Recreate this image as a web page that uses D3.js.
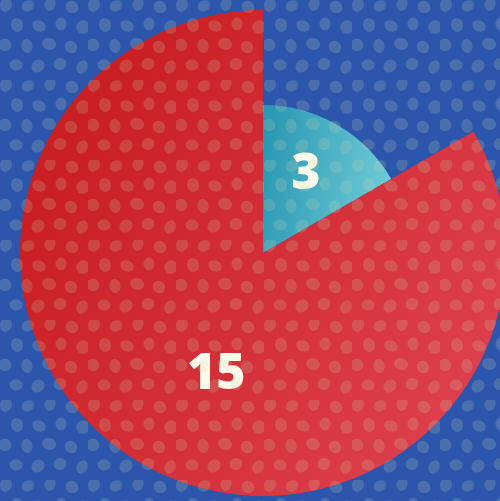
<!DOCTYPE html>
<html>
<head>
<meta charset="utf-8">
<script src="https://cdn.jsdelivr.net/npm/d3@7"></script>
<style>
  html, body { margin: 0; padding: 0; background: #2b56ac; }
  svg { display: block; }
</style>
</head>
<body>
<div class="chart"></div>
<script>
// data
var categories = ["A", "B"];
var values = [3, 15];
var radii = [148, 243];          // each slice has its own outer radius
var labels = ["3", "15"];

var width = 500, height = 501,
    cx = 263, cy = 253;

var svg = d3.select(".chart")
  .append("svg")
    .attr("width", width)
    .attr("height", height);

var defs = svg.append("defs");

// gradients for slices
var gradRed = defs.append("linearGradient")
    .attr("id", "gradRed")
    .attr("x1", "0").attr("y1", "0.2").attr("x2", "1").attr("y2", "0.8");
gradRed.append("stop").attr("offset", "0%").attr("stop-color", "#c71b1e");
gradRed.append("stop").attr("offset", "100%").attr("stop-color", "#df4150");

var gradTeal = defs.append("linearGradient")
    .attr("id", "gradTeal")
    .attr("x1", "0").attr("y1", "0.3").attr("x2", "1").attr("y2", "0.5");
gradTeal.append("stop").attr("offset", "0%").attr("stop-color", "#2a98b2");
gradTeal.append("stop").attr("offset", "100%").attr("stop-color", "#6ecbd8");

// dotted texture (decoration only)
var tileW = 44, tileH = 40;
var pat = defs.append("pattern")
    .attr("id", "dots")
    .attr("patternUnits", "userSpaceOnUse")
    .attr("width", tileW * 2)
    .attr("height", tileH * 2);
var blobs = [
  [6, 5, 6, 7, 20], [28, 6, 6.5, 5.5, -30], [50, 4, 5.5, 7, 10], [72, 7, 6.5, 6, 40],
  [17, 25, 6, 7, -15], [39, 26, 7, 5.5, 25], [61, 24, 5.5, 6.5, 0], [83, 27, 6.5, 7, 60],
  [5, 45, 6.5, 6, 35], [27, 46, 5.5, 7, -10], [49, 44, 7, 6, 15], [71, 47, 6, 6.5, -40],
  [16, 65, 6.5, 5.5, 5], [38, 66, 6, 7, 45], [60, 64, 6.5, 6, -20], [82, 67, 5.5, 7, 30]
];
pat.selectAll("ellipse")
  .data(blobs)
  .enter()
  .append("ellipse")
    .attr("cx", function(d) { return d[0]; })
    .attr("cy", function(d) { return d[1]; })
    .attr("rx", function(d) { return d[2]; })
    .attr("ry", function(d) { return d[3]; })
    .attr("transform", function(d) { return "rotate(" + d[4] + "," + d[0] + "," + d[1] + ")"; })
    .attr("fill", "rgb(200,210,170)")
    .attr("fill-opacity", 0.2);

// background
svg.append("rect")
    .attr("width", width)
    .attr("height", height)
    .attr("fill", "#2b56ac");

var g = svg.append("g")
    .attr("transform", "translate(" + cx + "," + cy + ")");

var pie = d3.pie().sort(null).value(function(d) { return d; });
var arcs = pie(values);

var arc = d3.arc()
    .innerRadius(0)
    .outerRadius(function(d) { return radii[d.index]; });

var fills = ["url(#gradTeal)", "url(#gradRed)"];

g.selectAll("path.slice")
  .data(arcs)
  .enter()
  .append("path")
    .attr("class", "slice")
    .attr("d", arc)
    .attr("fill", function(d) { return fills[d.index]; });

// texture on top of everything
svg.append("rect")
    .attr("width", width)
    .attr("height", height)
    .attr("fill", "url(#dots)");

// labels
var nudge = [[6, -19], [14, 12]];
g.selectAll("text")
  .data(arcs)
  .enter()
  .append("text")
    .attr("transform", function(d) {
      var c = arc.centroid(d);
      return "translate(" + (c[0] + nudge[d.index][0]) + "," + (c[1] + nudge[d.index][1]) + ")";
    })
    .attr("text-anchor", "middle")
    .attr("dominant-baseline", "central")
    .style("font-family", "'Open Sans', sans-serif")
    .style("font-weight", "800")
    .style("font-size", "50px")
    .attr("fill", "#fffbea")
    .text(function(d) { return labels[d.index]; });
</script>
</body>
</html>
